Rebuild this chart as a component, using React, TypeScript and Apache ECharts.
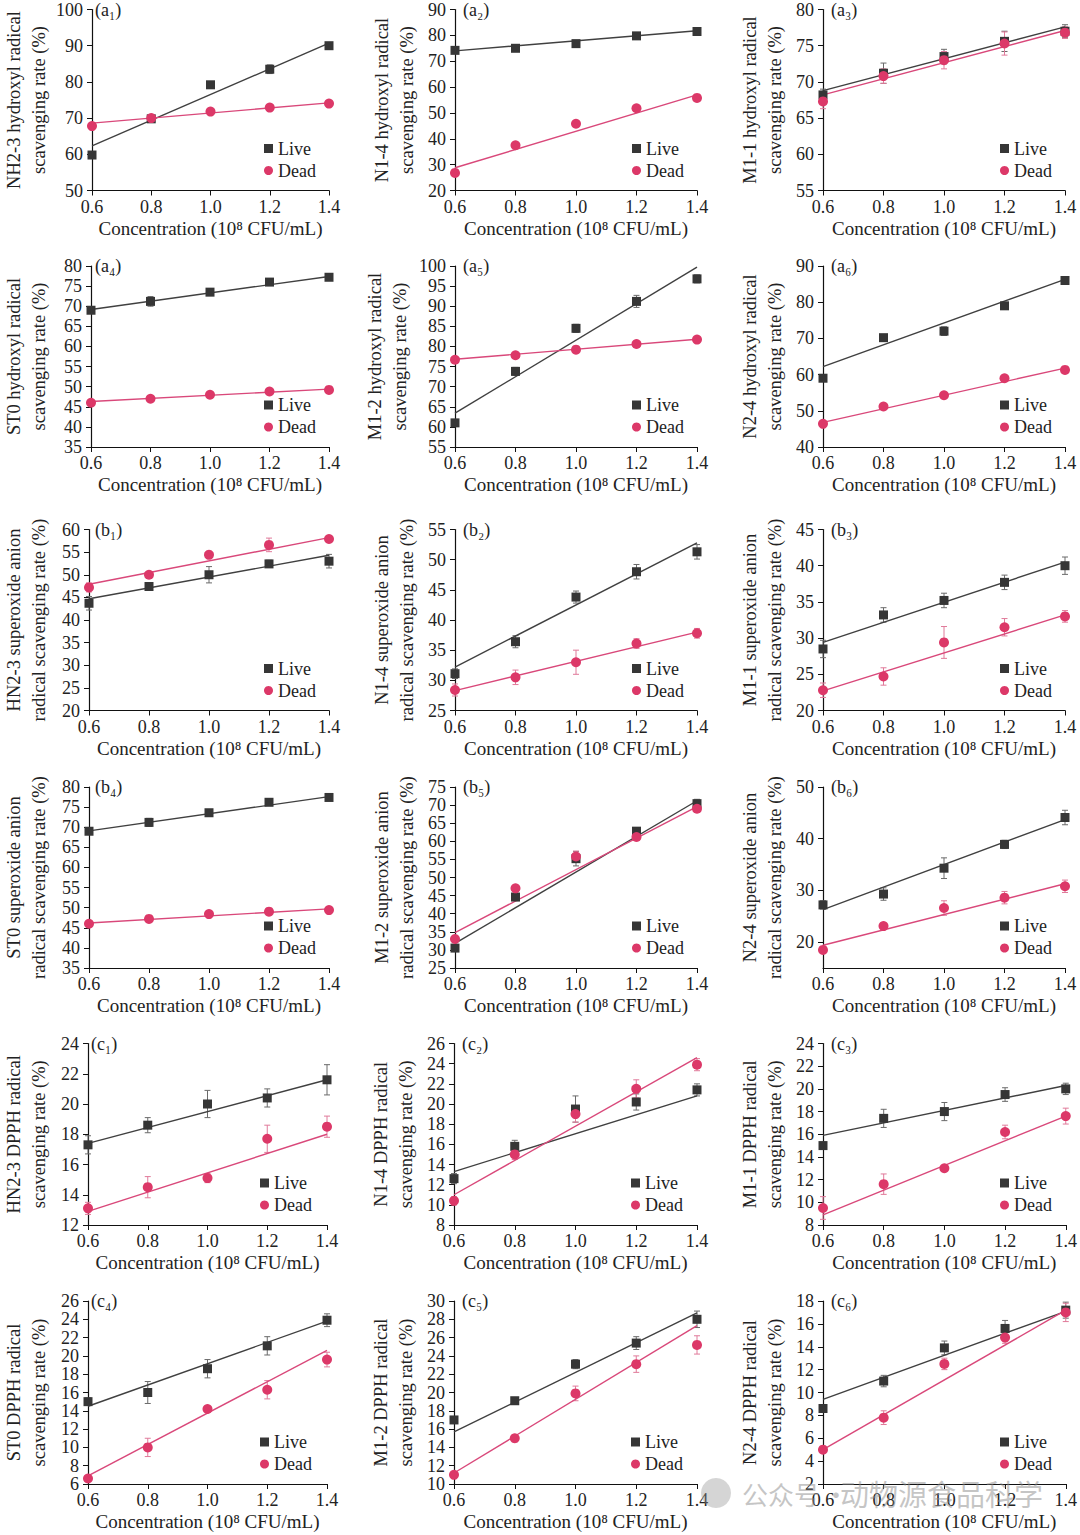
import React, { useEffect, useRef } from "react";
import * as echarts from "echarts";

// ---------------- DATA ----------------
const CONC = [0.6, 0.8, 1.0, 1.2, 1.4];
const FIT_X = [0.6, 1.4];

const PANEL_LABELS = [
  "(a₁)", "(a₂)", "(a₃)", "(a₄)", "(a₅)", "(a₆)",
  "(b₁)", "(b₂)", "(b₃)", "(b₄)", "(b₅)", "(b₆)",
  "(c₁)", "(c₂)", "(c₃)", "(c₄)", "(c₅)", "(c₆)",
];

const Y_NAMES = [
  "NH2-3 hydroxyl radical\nscavenging rate (%)",
  "N1-4 hydroxyl radical\nscavenging rate (%)",
  "M1-1 hydroxyl radical\nscavenging rate (%)",
  "ST0 hydroxyl radical\nscavenging rate (%)",
  "M1-2 hydroxyl radical\nscavenging rate (%)",
  "N2-4 hydroxyl radical\nscavenging rate (%)",
  "HN2-3 superoxide anion\nradical scavenging rate (%)",
  "N1-4 superoxide anion\nradical scavenging rate (%)",
  "M1-1 superoxide anion\nradical scavenging rate (%)",
  "ST0 superoxide anion\nradical scavenging rate (%)",
  "M1-2 superoxide anion\nradical scavenging rate (%)",
  "N2-4 superoxide anion\nradical scavenging rate (%)",
  "HN2-3 DPPH radical\nscavenging rate (%)",
  "N1-4 DPPH radical\nscavenging rate (%)",
  "M1-1 DPPH radical\nscavenging rate (%)",
  "ST0 DPPH radical\nscavenging rate (%)",
  "M1-2 DPPH radical\nscavenging rate (%)",
  "N2-4 DPPH radical\nscavenging rate (%)",
];

const X_NAME = "Concentration (10⁸ CFU/mL)";
const LEGEND_NAMES = ["Live", "Dead"];

const Y_MIN = [50, 20, 55, 35, 55, 40, 20, 25, 20, 35, 25, 15, 12, 8, 8, 6, 10, 2];
const Y_MAX = [100, 90, 80, 80, 100, 90, 60, 55, 45, 80, 75, 50, 24, 26, 24, 26, 30, 18];
const Y_STEP = [10, 10, 5, 5, 5, 10, 5, 5, 5, 5, 5, 5, 2, 2, 2, 2, 2, 2];
const B6_TICKS = [20, 30, 40, 50];

const LIVE = [
  [59.8, 69.8, 79.2, 83.5, 90.0],
  [74.2, 75.0, 76.8, 79.8, 81.5],
  [68.2, 71.2, 73.5, 75.6, 77.0],
  [69.0, 71.2, 73.5, 76.0, 77.2],
  [61.0, 73.8, 84.5, 91.2, 96.8],
  [59.0, 70.2, 72.0, 79.0, 86.0],
  [43.7, 47.4, 50.0, 52.4, 53.0],
  [31.1, 36.4, 43.8, 48.0, 51.3],
  [28.5, 33.2, 35.2, 37.7, 40.0],
  [69.0, 71.2, 73.6, 76.2, 77.4],
  [30.5, 44.6, 55.2, 62.8, 70.4],
  [27.2, 29.3, 34.3, 38.9, 44.1],
  [17.3, 18.6, 20.0, 20.4, 21.6],
  [12.6, 15.8, 19.5, 20.2, 21.4],
  [15.0, 17.4, 18.0, 19.5, 20.0],
  [15.0, 16.0, 18.6, 21.1, 23.9],
  [17.0, 19.1, 23.1, 25.4, 28.0],
  [8.6, 11.0, 13.9, 15.6, 17.2],
];

const DEAD = [
  [67.8, 70.0, 71.8, 72.9, 74.0],
  [26.8, 37.5, 45.8, 51.8, 55.8],
  [67.3, 70.8, 73.0, 75.3, 76.8],
  [46.0, 47.0, 48.0, 48.8, 49.2],
  [76.7, 77.8, 79.2, 80.6, 81.7],
  [46.4, 51.2, 54.3, 59.0, 61.3],
  [47.2, 50.0, 54.4, 56.6, 57.9],
  [28.4, 30.5, 33.0, 36.1, 37.8],
  [22.8, 24.7, 29.4, 31.5, 33.0],
  [46.0, 47.2, 48.4, 49.0, 49.4],
  [33.0, 47.0, 55.8, 61.2, 69.0],
  [18.5, 23.1, 26.6, 28.6, 30.8],
  [13.1, 14.5, 15.1, 17.7, 18.5],
  [10.4, 15.0, 19.0, 21.5, 23.9],
  [9.5, 11.6, 13.0, 16.2, 17.6],
  [6.6, 10.0, 14.2, 16.3, 19.6],
  [11.0, 15.0, 19.9, 23.1, 25.2],
  [5.0, 7.8, 12.5, 14.8, 17.0],
];

const LIVE_ERR = [
  [0.5, 0.5, 0.6, 1.2, 0.5],
  [0.6, 0.5, 0.6, 0.5, 1.0],
  [0.8, 1.4, 1.0, 1.4, 0.9],
  [0.5, 1.2, 0.5, 0.7, 0.4],
  [0.8, 1.0, 1.0, 1.5, 1.0],
  [0.8, 0.8, 1.2, 0.8, 0.8],
  [1.5, 0.6, 1.8, 0.8, 1.5],
  [0.8, 1.0, 1.0, 1.2, 1.2],
  [1.2, 1.0, 1.0, 1.0, 1.2],
  [0.5, 1.0, 0.6, 0.5, 0.5],
  [0.8, 1.0, 2.0, 1.0, 1.2],
  [0.8, 1.2, 2.0, 0.8, 1.4],
  [0.6, 0.5, 0.9, 0.6, 1.0],
  [0.5, 0.6, 1.3, 0.8, 0.6],
  [0.3, 0.8, 0.8, 0.6, 0.5],
  [0.4, 1.2, 1.0, 1.0, 0.7],
  [0.3, 0.3, 0.5, 0.7, 0.9],
  [0.3, 0.5, 0.6, 0.7, 0.7],
];

const DEAD_ERR = [
  [0.6, 0.5, 0.5, 0.5, 0.5],
  [0.8, 0.8, 0.8, 1.0, 0.8],
  [1.0, 1.0, 1.2, 1.6, 0.8],
  [0.5, 0.4, 0.5, 0.4, 0.4],
  [0.5, 0.5, 0.6, 0.5, 0.5],
  [0.8, 0.6, 0.6, 0.8, 0.8],
  [1.0, 0.6, 0.8, 1.5, 0.6],
  [1.0, 1.2, 2.0, 0.8, 0.8],
  [1.0, 1.2, 2.2, 1.2, 0.8],
  [0.5, 0.4, 0.4, 0.4, 0.4],
  [1.0, 0.8, 1.5, 1.0, 1.0],
  [0.6, 0.6, 1.4, 1.2, 1.2],
  [0.4, 0.7, 0.3, 0.9, 0.7],
  [0.4, 0.5, 0.8, 0.9, 0.6],
  [1.0, 0.9, 0.2, 0.6, 0.7],
  [0.3, 1.0, 0.3, 1.0, 0.8],
  [0.3, 0.4, 0.8, 0.9, 1.0],
  [0.2, 0.6, 0.5, 0.5, 0.8],
];

// regression line values at x = 0.6 and x = 1.4
const LIVE_FIT = [
  [62.3, 90.7], [74.0, 81.8], [68.8, 77.6], [69.2, 77.4], [63.4, 99.7], [62.2, 86.3],
  [44.7, 54.3], [32.2, 52.8], [29.4, 40.5], [69.1, 77.6], [31.8, 71.2], [26.3, 43.7],
  [17.4, 21.6], [13.3, 20.8], [15.9, 20.3], [14.5, 23.8], [15.7, 28.7], [9.4, 17.1],
];
const DEAD_FIT = [
  [68.6, 74.2], [28.8, 57.0], [68.2, 77.1], [46.3, 49.4], [76.8, 81.8], [46.8, 61.8],
  [47.9, 58.2], [28.3, 38.0], [22.7, 33.2], [46.2, 49.7], [34.8, 69.6], [19.4, 31.3],
  [12.9, 18.0], [11.0, 24.6], [8.9, 17.6], [6.9, 20.6], [11.2, 27.3], [5.0, 17.2],
];

const WATERMARK_A = "公众号";
const WATERMARK_DOT = "·";
const WATERMARK_B = "动物源食品科学";

// ---------------- LAYOUT / STYLE ----------------
const FONT = '"Liberation Serif", "Times New Roman", "DejaVu Serif", serif';
const TEXT = "#222";
const LIVE_COLOR = "#363636";
const LIVE_LINE = "#404040";
const DEAD_COLOR = "#dc3868";
const DEAD_LINE = "#d9487a";

const ROW_TOP = [9.5, 266, 529.5, 787, 1043.5, 1301];
const ROW_H = [181, 181, 181, 181, 181.5, 183];
const COL_LEFT_AB = [87, 455, 823];
const COL_W_AB = [242, 242, 242];
const COL_LEFT_C = [83, 454, 823];
const COL_W_C = [244, 243, 244];
const NAME_GAP = [41, 36, 36, 40, 43, 36, 38, 36, 36, 38, 36, 36, 37, 36, 36, 37, 36, 36];

function gridRect(i: number) {
  const row = Math.floor(i / 3);
  const col = i % 3;
  const isC = row >= 4;
  const left = isC ? COL_LEFT_C[col] : COL_LEFT_AB[col];
  const width = isC ? COL_W_C[col] : COL_W_AB[col];
  return { left, top: ROW_TOP[row], width, height: ROW_H[row] };
}

function errorSeries(i: number, vals: number[], errs: number[], color: string) {
  return {
    type: "custom",
    xAxisIndex: i,
    yAxisIndex: i,
    silent: true,
    z: 1,
    clip: false,
    data: CONC.map((x, k) => [x, vals[k], errs[k]]),
    renderItem: (_params: any, api: any) => {
      const x = api.value(0);
      const y = api.value(1);
      const e = api.value(2);
      const top = api.coord([x, y + e]);
      const bot = api.coord([x, y - e]);
      const c = 3;
      const st = { stroke: color, lineWidth: 1 };
      return {
        type: "group",
        children: [
          { type: "line", shape: { x1: top[0], y1: top[1], x2: bot[0], y2: bot[1] }, style: st },
          { type: "line", shape: { x1: top[0] - c, y1: top[1], x2: top[0] + c, y2: top[1] }, style: st },
          { type: "line", shape: { x1: bot[0] - c, y1: bot[1], x2: bot[0] + c, y2: bot[1] }, style: st },
        ],
      };
    },
  };
}

function buildOption() {
  const idx = PANEL_LABELS.map((_, i) => i);
  const grid: any[] = [];
  const xAxis: any[] = [];
  const yAxis: any[] = [];
  const title: any[] = [];
  const legend: any[] = [];
  const series: any[] = [];

  idx.forEach((i) => {
    const g = gridRect(i);
    grid.push({ left: g.left, top: g.top, width: g.width, height: g.height, containLabel: false });

    title.push({
      text: PANEL_LABELS[i],
      left: g.left + 8,
      top: g.top - 9,
      padding: 0,
      textStyle: { fontFamily: FONT, fontSize: 18, fontWeight: "normal", color: TEXT },
    });

    legend.push({
      left: g.left + 177,
      top: g.top + g.height - 51,
      orient: "vertical",
      padding: 0,
      itemGap: 4,
      itemWidth: 9,
      itemHeight: 9,
      selectedMode: false,
      data: [
        { name: LEGEND_NAMES[0], icon: "rect" },
        { name: LEGEND_NAMES[1], icon: "circle" },
      ],
      textStyle: { fontFamily: FONT, fontSize: 18, color: TEXT, padding: [0, 0, 0, 0] },
    });

    xAxis.push({
      gridIndex: i,
      type: "value",
      min: 0.6,
      max: 1.4,
      interval: 0.2,
      axisLine: { show: true, onZero: false, lineStyle: { color: "#111", width: 1.2 } },
      axisTick: { show: true, inside: false, length: 5, lineStyle: { color: "#111", width: 1 } },
      axisLabel: {
        fontFamily: FONT,
        fontSize: 18,
        color: TEXT,
        margin: 7,
        showMinLabel: true,
        showMaxLabel: true,
        formatter: (v: number) => v.toFixed(1),
      },
      splitLine: { show: false },
      name: X_NAME,
      nameLocation: "middle",
      nameGap: 28,
      nameTextStyle: { fontFamily: FONT, fontSize: 19, color: TEXT },
    });

    const isB6 = i === 11;
    yAxis.push({
      gridIndex: i,
      type: "value",
      min: Y_MIN[i],
      max: Y_MAX[i],
      interval: Y_STEP[i],
      axisLine: { show: true, onZero: false, lineStyle: { color: "#111", width: 1.2 } },
      axisTick: isB6
        ? { show: true, inside: false, length: 5, customValues: B6_TICKS, lineStyle: { color: "#111", width: 1 } }
        : { show: true, inside: false, length: 5, lineStyle: { color: "#111", width: 1 } },
      axisLabel: isB6
        ? {
            fontFamily: FONT, fontSize: 18, color: TEXT, margin: 9,
            customValues: B6_TICKS,
            formatter: (v: number) => (v % 10 === 0 ? String(v) : ""),
          }
        : { fontFamily: FONT, fontSize: 18, color: TEXT, margin: 9, showMinLabel: true, showMaxLabel: true },
      splitLine: { show: false },
      name: Y_NAMES[i],
      nameLocation: "middle",
      nameRotate: 90,
      nameGap: NAME_GAP[i],
      nameTextStyle: { fontFamily: FONT, fontSize: 18.5, color: TEXT, lineHeight: 25 },
    });

    series.push(errorSeries(i, LIVE[i], LIVE_ERR[i], "#6a6a6a"));
    series.push(errorSeries(i, DEAD[i], DEAD_ERR[i], "#e07a9a"));

    series.push({
      name: "Live fit",
      type: "line",
      xAxisIndex: i,
      yAxisIndex: i,
      data: FIT_X.map((x, k) => [x, LIVE_FIT[i][k]]),
      showSymbol: false,
      symbol: "none",
      silent: true,
      z: 2,
      lineStyle: { color: LIVE_LINE, width: 1.4 },
    });
    series.push({
      name: "Dead fit",
      type: "line",
      xAxisIndex: i,
      yAxisIndex: i,
      data: FIT_X.map((x, k) => [x, DEAD_FIT[i][k]]),
      showSymbol: false,
      symbol: "none",
      silent: true,
      z: 2,
      lineStyle: { color: DEAD_LINE, width: 1.4 },
    });
    series.push({
      name: "Live",
      type: "scatter",
      xAxisIndex: i,
      yAxisIndex: i,
      symbol: "rect",
      symbolSize: 9,
      z: 3,
      itemStyle: { color: LIVE_COLOR, opacity: 1 },
      data: CONC.map((x, k) => [x, LIVE[i][k]]),
    });
    series.push({
      name: "Dead",
      type: "scatter",
      xAxisIndex: i,
      yAxisIndex: i,
      symbol: "circle",
      symbolSize: 10,
      z: 4,
      itemStyle: { color: DEAD_COLOR, opacity: 1 },
      data: CONC.map((x, k) => [x, DEAD[i][k]]),
    });
  });

  const wmFont = '"Noto Sans CJK SC", sans-serif';
  const wmFill = "rgba(140,140,140,0.5)";
  return {
    animation: false,
    backgroundColor: "#ffffff",
    textStyle: { fontFamily: FONT },
    grid,
    xAxis,
    yAxis,
    title,
    legend,
    series,
    graphic: [
      {
        type: "circle",
        z: 100,
        shape: { cx: 716, cy: 1493, r: 15 },
        style: { fill: "rgba(150,150,150,0.4)" },
      },
      {
        type: "text",
        z: 100,
        x: 742,
        y: 1493,
        style: { text: WATERMARK_A, fontFamily: wmFont, fontSize: 26, fill: wmFill, verticalAlign: "middle" },
      },
      {
        type: "text",
        z: 100,
        x: 823,
        y: 1493,
        style: { text: WATERMARK_DOT, fontFamily: wmFont, fontSize: 26, fill: wmFill, verticalAlign: "middle" },
      },
      {
        type: "text",
        z: 100,
        x: 840,
        y: 1493,
        style: { text: WATERMARK_B, fontFamily: wmFont, fontSize: 29, fill: wmFill, verticalAlign: "middle" },
      },
    ],
  };
}

export default function App() {
  const ref = useRef<HTMLDivElement | null>(null);
  useEffect(() => {
    if (!ref.current) return;
    const chart = echarts.init(ref.current, undefined, { renderer: "svg" });
    chart.setOption(buildOption() as any);
    return () => chart.dispose();
  }, []);
  return (
    <div
      ref={ref}
      style={{ position: "absolute", left: 0, top: 0, width: 1080, height: 1535, background: "#fff" }}
    />
  );
}
